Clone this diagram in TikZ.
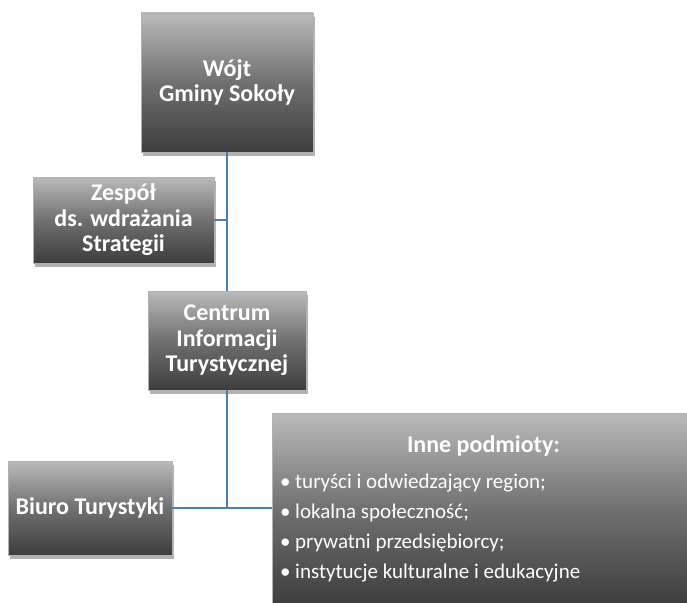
\documentclass[tikz,border=0pt]{standalone}
\usepackage{fontspec}
\setmainfont{Carlito}
\usetikzlibrary{shadows}
\definecolor{linkblue}{HTML}{4A7EBB}
\begin{document}
\begin{tikzpicture}[x=1pt, y=-1pt,
        orgbox/.style={rectangle, draw=black!30, very thin, top color=black!27, bottom color=black!76, middle color=black!56,
            text=white, font=\fontsize{24}{25.5}\selectfont\bfseries, align=center, inner sep=0pt,
            drop shadow={shadow xshift=2pt, shadow yshift=-4pt, opacity=0.3, fill=black}},
        link/.style={draw=linkblue, line width=1.4pt}]
        \useasboundingbox (0,0) rectangle (687,602);

        % Top of the chart
        \node[orgbox, minimum width=172, minimum height=139] (wojt) at (227,82.5) {W\'ojt\\Gminy Sokoły};
        \node[orgbox, minimum width=181, minimum height=86] (zespol) at (123.5,220) {Zespół\\ds. wdrażania\\Strategii};
        \node[orgbox, minimum width=158, minimum height=99] (centrum) at (227,340.5) {Centrum\\Informacji\\Turystycznej};

        % Bottom row
        \node[orgbox, minimum width=164, minimum height=94] (biuro) at (90,508) {Biuro Turystyki};
        \node[orgbox, minimum width=423, minimum height=192, align=left, inner xsep=8pt] (inne) at (483.5,509)
            {\parbox{407pt}{\centering Inne podmioty:\par\vspace{6pt}
             \raggedright\mdseries\fontsize{21}{30}\selectfont
             • turyści i odwiedzający region;\par
             • lokalna społeczność;\par
             • prywatni przedsiębiorcy;\par
             • instytucje kulturalne i edukacyjne\par}};

        % Connectors
        \coordinate (hub) at (centrum.south |- biuro.east);
        \draw[link] (wojt.south) -- (centrum.north);
        \draw[link] (zespol.east) -- (zespol.east -| wojt.south);
        \draw[link] (centrum.south) -- (hub);
        \draw[link] (biuro.east) -- (hub) -- (hub -| inne.west);
    \end{tikzpicture}
\end{document}
